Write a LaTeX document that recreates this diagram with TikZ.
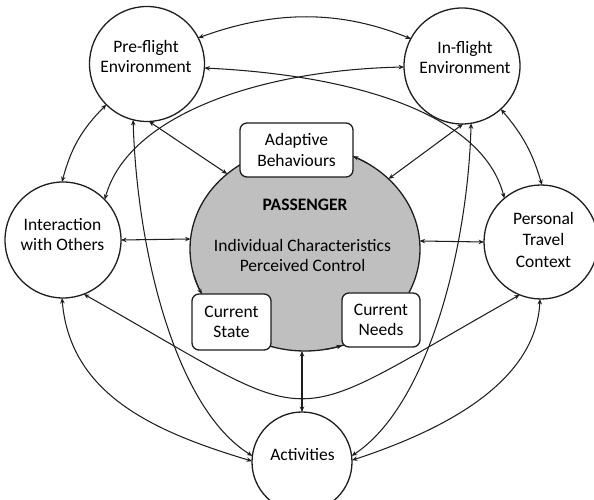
\documentclass[tikz,border=0pt]{standalone}
\usepackage{fontspec}
\setmainfont{Carlito}
\usetikzlibrary{arrows.meta,shapes.geometric}
\definecolor{passgrey}{RGB}{191,191,191}
\definecolor{ink}{RGB}{30,30,30}
\begin{document}
\begin{tikzpicture}[x=1pt,y=1pt,
  ring/.style={circle, draw=ink, line width=1.3pt, fill=white, minimum size=#1, inner sep=0pt, outer sep=0pt},
  passell/.style={ellipse, draw=ink, line width=1.3pt, fill=passgrey, minimum width=230, minimum height=204, inner sep=0pt, outer sep=0pt},
  boxnode/.style={draw=ink, line width=1.3pt, fill=white, rounded corners=7pt, align=center, inner sep=0pt, outer sep=0pt, font=\fontsize{17.5}{20.5}\selectfont},
  lbl/.style={align=center, inner sep=0pt, font=\fontsize{17.5}{20.5}\selectfont},
  conn/.style={draw=ink, line width=1.05pt, {Stealth[length=5.5pt,width=4.5pt]}-{Stealth[length=5.5pt,width=4.5pt]}},
  tipconn/.style={draw=ink, line width=1.05pt, -{Stealth[length=5.5pt,width=4.5pt]}}
]
\useasboundingbox (0,0) rectangle (594,500);

% outer circles
\node[ring=115] (pre) at (147,436) {};
\node[ring=116] (inf) at (462,434) {};
\node[ring=116] (inter) at (63,260) {};
\node[ring=114] (ptc) at (541,258) {};
\node[ring=100] (act) at (302,38) {};

% passenger
\node[passell] (pass) at (305,251) {};
\draw[tipconn] (pass.center) ++(57:115 and 102) arc[start angle=57, end angle=65.3, x radius=115, y radius=102];
\draw[tipconn] (pass.center) ++(195:115 and 102) arc[start angle=195, end angle=206.2, x radius=115, y radius=102];
\draw[tipconn] (pass.center) ++(280:115 and 102) arc[start angle=280, end angle=288.8, x radius=115, y radius=102];

% boxes
\node[boxnode, minimum width=113, minimum height=54] (ab) at (296.5,350) {Adaptive\\Behaviours};
\node[boxnode, minimum width=79, minimum height=56] (cs) at (231.5,178) {Current\\State};
\node[boxnode, minimum width=78, minimum height=54] (cn) at (381,180) {Current\\Needs};

% labels
\node[lbl] (pre-t) at (146,443.5) {Pre-flight\\Environment};
\node[lbl] (inf-t) at (465,442.5) {In-flight\\Environment};
\node[lbl] (inter-t) at (62.5,265.5) {Interaction\\with Others};
\node[lbl, font=\fontsize{17.5}{21.5}\selectfont] (ptc-t) at (543.5,260.5) {Personal\\Travel\\Context};
\node[lbl] (act-t) at (302.5,45) {Activities};
\node[lbl, font=\fontsize{17.5}{20.5}\selectfont\bfseries] (pass-h) at (305,295) {PASSENGER};
\node[lbl] (pass-t) at (302.5,244.5) {Individual Characteristics\\Perceived Control};

% connectors
\begin{scope}[every path/.style={conn}]
\draw (pre.27) .. controls (275,490) and (340,490) .. (inf.152.6);
\draw (pre.-4) .. controls (350,425) and (482,388) .. (ptc.130);
\draw (inf.181) .. controls (260,430) and (128,385) .. (inter.44.3);
\draw (pre.225) to[bend right=15] (inter.91);
\draw (inf.-48.4) to[bend left=12] (ptc.89);
\draw (pre.-88) -- (pass.136);
\draw (inf.-89) -- (pass.40.9);
\draw (pre.-104.5) .. controls (137,250) and (175,92) .. (act.173.5);
\draw (inf.-81) .. controls (468,255) and (429,95) .. (act.7);
\draw (inter.-91) .. controls (70,105) and (155,68) .. (act.179);
\draw (ptc.-91) .. controls (536,120) and (450,72) .. (act.2);
\draw (inter.-69) .. controls (330,67) and (274,67) .. (ptc.-112);
\draw (inter.east) -- (pass.175.5);
\draw (pass.4.2) -- (ptc.180);
\draw (pass.south -| act.north) -- (act.north);
\end{scope}
\end{tikzpicture}
\end{document}
